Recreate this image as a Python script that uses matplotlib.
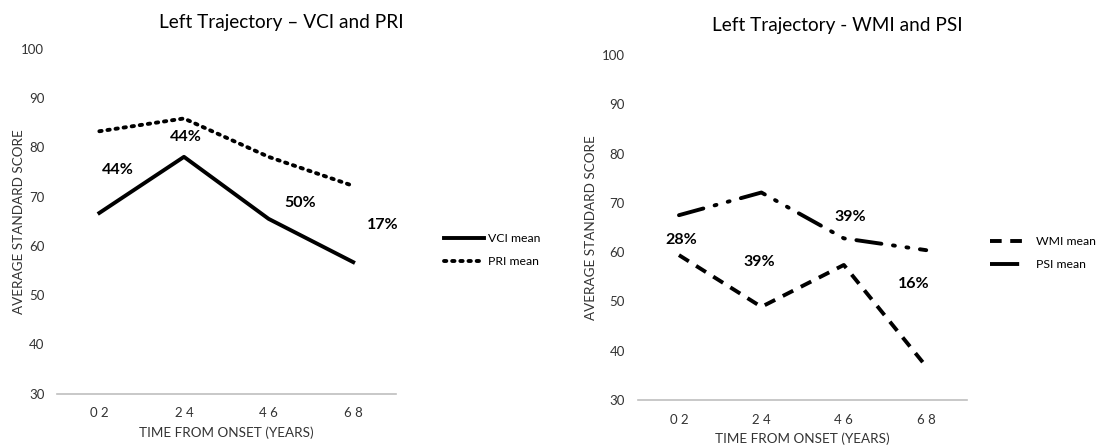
import matplotlib.pyplot as plt
from matplotlib.lines import Line2D

# Data
periods = ['0 2', '2 4', '4 6', '6 8']

vci_mean = [66.7, 78.1, 65.5, 56.7]
pri_mean = [83.3, 85.9, 78.1, 72.2]
wmi_mean = [59.4, 48.9, 57.4, 36.8]
psi_mean = [67.5, 72.1, 62.8, 60.4]

# percentage annotations (x position, y position, text)
left_pct = ['44%', '44%', '50%', '17%']
left_pct_x = [0.22, 1.02, 2.37, 3.35]
left_pct_y = [75.4, 82.1, 68.8, 64.2]
right_pct = ['28%', '39%', '39%', '16%']
right_pct_x = [0.03, 0.97, 2.08, 2.85]
right_pct_y = [62.5, 58.0, 67.1, 53.5]

plt.rcParams['font.family'] = ['Lato', 'DejaVu Sans']

fig = plt.figure(figsize=(10.99, 4.45), dpi=100)
ax1 = fig.add_axes([0.0519, 0.1157, 0.308, 0.774])
ax2 = fig.add_axes([0.5803, 0.1011, 0.300, 0.7753])

tick_color = '#333333'


# Common styling for both panels
def style_axes(ax, title, title_x, title_pad, ylab_x):
    ax.set_xlim(-0.5, 3.5)
    ax.set_ylim(30, 100)
    ax.set_yticks(range(30, 101, 10))
    ax.set_xticks(range(len(periods)))
    ax.set_xticklabels(periods)
    for side in ['top', 'right', 'left']:
        ax.spines[side].set_visible(False)
    ax.spines['bottom'].set_color('#bfbfbf')
    ax.spines['bottom'].set_linewidth(1.2)
    ax.tick_params(length=0, labelsize=9.5, colors=tick_color, pad=10)
    ax.tick_params(axis='y', pad=9.2)
    ax.set_title(title, fontsize=13.7, pad=title_pad, x=title_x)
    ax.set_xlabel('TIME FROM ONSET (YEARS)', fontsize=9.7, color=tick_color, labelpad=5)
    ax.set_ylabel('AVERAGE STANDARD SCORE', fontsize=9.7, color=tick_color)
    ax.yaxis.set_label_coords(ylab_x, 0.5)


x = range(len(periods))

ax1.plot(x, vci_mean, color='black', lw=2.8, label='VCI mean')
ax1.plot(x, pri_mean, color='black', lw=2.8, linestyle=(0, (0.6, 1.5)),
         dash_capstyle='round', label='PRI mean')
for t, px, py in zip(left_pct, left_pct_x, left_pct_y):
    ax1.text(px, py, t, fontsize=11.5, fontweight='bold', ha='center', va='center')
style_axes(ax1, 'Left Trajectory \u2013 VCI and PRI', 0.662, 15, -0.096)
ax1.legend(loc='center left', bbox_to_anchor=(1.143, 0.416), frameon=False,
           borderaxespad=0, borderpad=0, handlelength=3.3, handletextpad=0.3,
           labelspacing=1.0, fontsize=8.8)

wmi_line, = ax2.plot(x, wmi_mean, color='black', lw=2.8, linestyle=(0, (3, 2.2)),
                     label='WMI mean')
ax2.plot(x, psi_mean, color='black', lw=2.8, linestyle=(0, (6.5, 3, 0.5, 3, 0.5, 3)),
         dash_capstyle='round', label='PSI mean')
for t, px, py in zip(right_pct, right_pct_x, right_pct_y):
    ax2.text(px, py, t, fontsize=11.5, fontweight='bold', ha='center', va='center')
style_axes(ax2, 'Left Trajectory - WMI and PSI', 0.606, 17.5, -0.123)
# the PSI key in the reference only shows the first long dash
psi_key = Line2D([], [], color='black', lw=2.8, linestyle=(0, (7.5, 10)))
ax2.legend([wmi_line, psi_key], ['WMI mean', 'PSI mean'], loc='center left',
           bbox_to_anchor=(1.068, 0.426), frameon=False,
           borderaxespad=0, borderpad=0, handlelength=3.3, handletextpad=0.5,
           labelspacing=1.0, fontsize=8.8)

plt.savefig('out.png', dpi=100)
